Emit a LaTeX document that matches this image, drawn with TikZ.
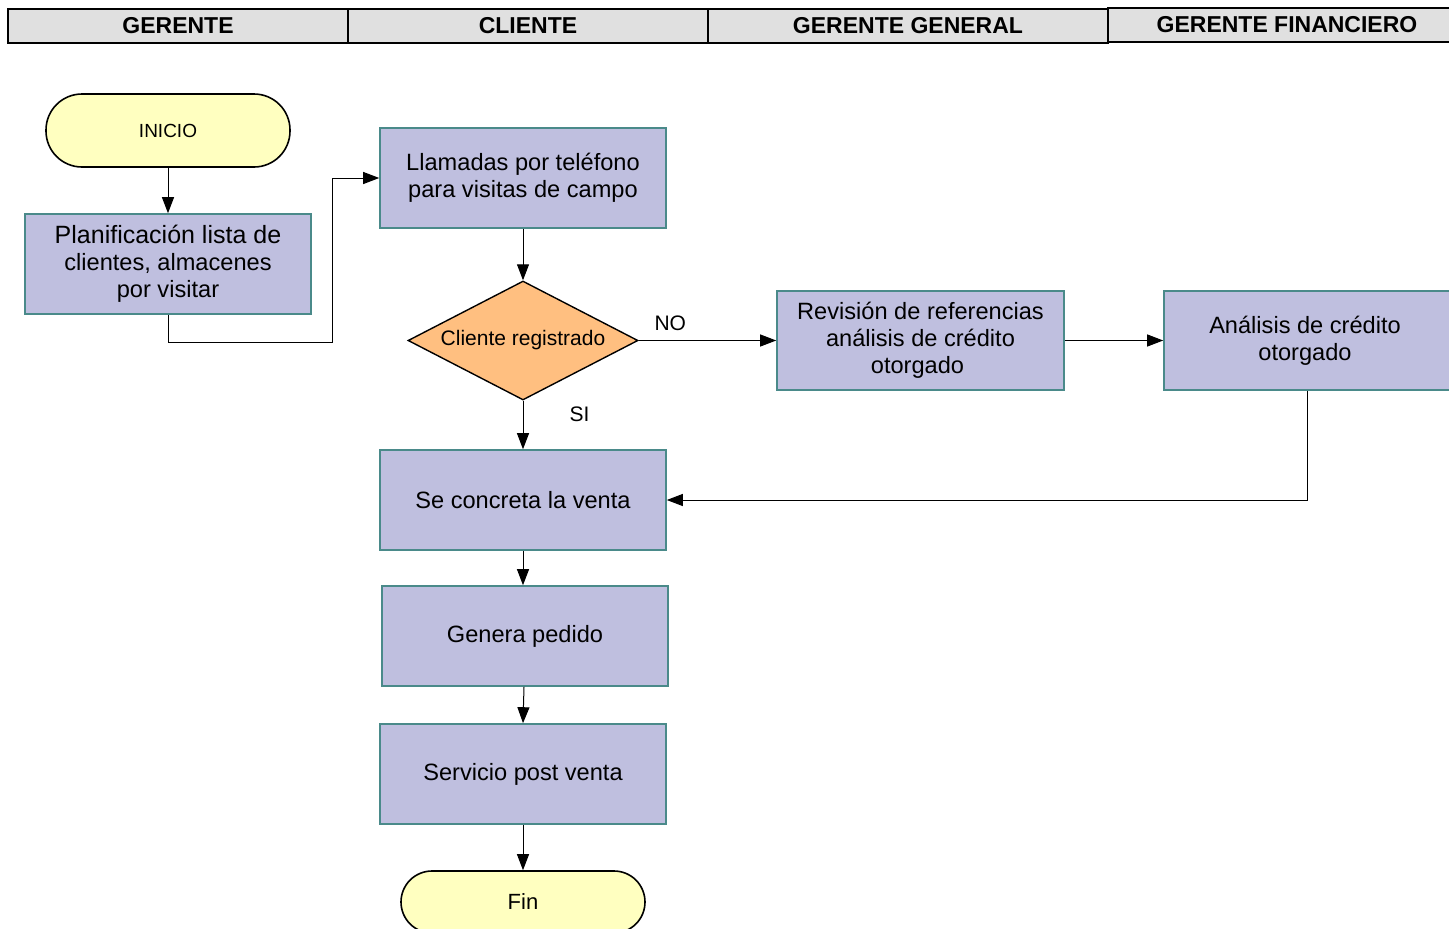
\documentclass[tikz,border=0pt]{standalone}
\usepackage{fontspec}
\setmainfont{Liberation Sans}
\usetikzlibrary{shapes.geometric,arrows.meta}
\definecolor{headfill}{HTML}{E0E0E0}
\definecolor{procfill}{HTML}{BFBFDF}
\definecolor{procline}{HTML}{4A8A8A}
\definecolor{termfill}{HTML}{FFFFC0}
\definecolor{decfill}{HTML}{FFBF80}
\tikzset{
  lane/.style={draw=black, line width=1.8pt, fill=headfill, inner sep=0pt,
    font=\fontsize{23}{27}\selectfont\bfseries},
  proc/.style={draw=procline, line width=1.6pt, fill=procfill, inner sep=0pt,
    minimum width=286pt, minimum height=100pt, align=center,
    font=\fontsize{23.6}{27}\selectfont},
  term/.style={draw=black, line width=1.6pt, fill=termfill, rounded corners=36pt,
    minimum width=244pt, minimum height=73pt, inner sep=0pt},
  decision/.style={diamond, draw=black, line width=1.4pt, fill=decfill, inner sep=0pt,
    minimum width=230pt, minimum height=119pt, font=\fontsize{21}{25}\selectfont},
  flow/.style={draw=black, line width=1pt, -{Triangle[length=16pt,width=12pt]}},
  tag/.style={font=\fontsize{21}{25}\selectfont, inner sep=0pt}
}
\begin{document}
\begin{tikzpicture}[x=1pt,y=-1pt]
\useasboundingbox (0,0) rectangle (1449,929);
\clip (0,0) rectangle (1449,929);
\fill[white] (0,0) rectangle (1449,929);

% swimlane headers
\node[lane, minimum width=340pt, minimum height=34pt] (hg) at (178,26) {GERENTE};
\node[lane, minimum width=360pt, minimum height=34pt] (hc) at (528,26) {CLIENTE};
\node[lane, minimum width=400pt, minimum height=34pt] (hgg) at (908,26) {GERENTE GENERAL};
\node[lane, minimum width=360pt, minimum height=34pt] (hgf) at (1288,25) {};
\node[font=\fontsize{23}{27}\selectfont\bfseries] at (1287,25) {GERENTE FINANCIERO};

% terminals
\node[term, font=\fontsize{19}{23}\selectfont] (ini) at (168,130.5) {INICIO};
\node[term, minimum height=62pt, rounded corners=31pt, font=\fontsize{22}{26}\selectfont] (fin) at (523,902) {Fin};

% process steps
\node[proc] (plan) at (168,264) {\fontsize{25}{29.5}\selectfont Planificación lista de\\clientes, almacenes\\por visitar};
\node[proc] (llam) at (523,178) {Llamadas por teléfono\\para visitas de campo};
\node[decision] (dec) at (523,340.5) {\makebox[0pt]{Cliente registrado}};
\node[proc, minimum width=287pt, minimum height=99pt] (rev) at (920.5,340.5) {Revisión de referencias\\análisis de crédito\\otorgado\hspace*{6pt}};
\node[proc, minimum width=290pt, minimum height=99pt] (ana) at (1309,340.5) {Análisis de crédito\hspace*{8pt}\\otorgado\hspace*{8pt}};
\node[proc] (venta) at (523,500) {Se concreta la venta};
\node[proc] (ped) at (525,636) {Genera pedido};
\node[proc] (serv) at (523,774) {Servicio post venta};

% connectors
\draw[flow] (ini) -- (plan);
\draw[flow] (plan.south) |- (332,342) |- (llam.west);
\draw[flow] (llam) -- (dec);
\draw[flow] (dec.east) -- node[tag, above=9pt, pos=0.23] {NO} (rev.west);
\draw[flow] (rev) -- (ana);
\draw[flow] (dec.south) -- node[tag, right, pos=0.28, xshift=46pt] {SI} (venta.north);
\draw[flow] (ana.south -| 1307,0) |- (venta.east);
\draw[flow] (venta.south) -- (ped.north -| 523,0);
\draw[flow] (ped.south -| 524,0) -- (serv.north);
\draw[flow] (serv) -- (fin);
\end{tikzpicture}
\end{document}
